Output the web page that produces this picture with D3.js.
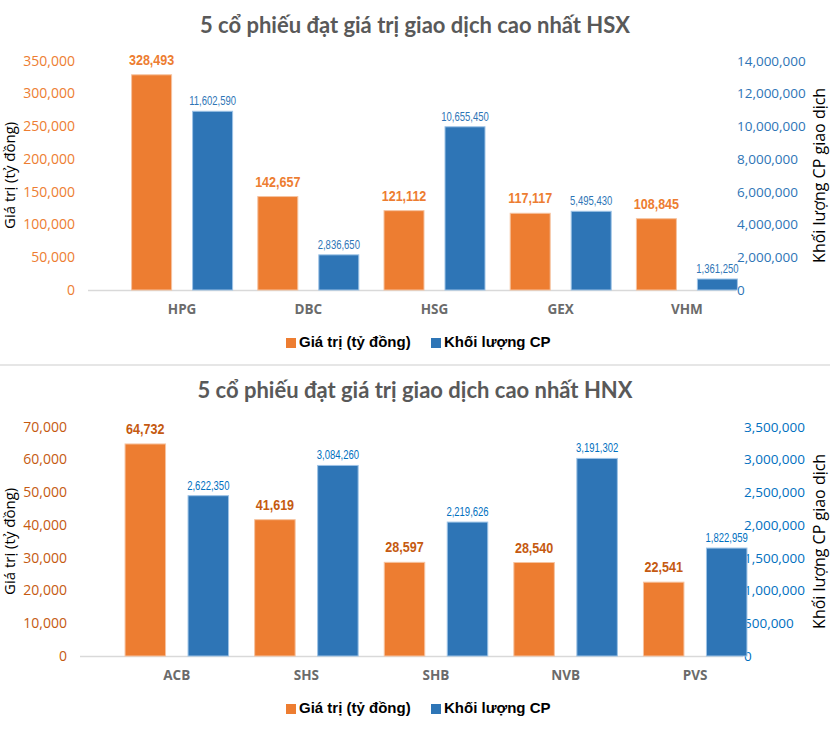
<!DOCTYPE html>
<html><head><meta charset="utf-8">
<script src="https://cdn.jsdelivr.net/npm/d3@7/dist/d3.min.js"></script>
<style>
html,body{margin:0;padding:0;background:#fff;}
svg{display:block;}
</style></head>
<body>
<svg id="chart" width="830" height="755"></svg>
<script>
// ---- Data ----
const hsxTitle = "5 cổ phiếu đạt giá trị giao dịch cao nhất HSX";
const hsxCategories = ["HPG", "DBC", "HSG", "GEX", "VHM"];
const hsxValue = [328493, 142657, 121112, 117117, 108845];
const hsxVolume = [11602590, 2836650, 10655450, 5495430, 1361250];
const hsxValueTicks = [0, 50000, 100000, 150000, 200000, 250000, 300000, 350000];
const hsxVolumeTicks = [0, 2000000, 4000000, 6000000, 8000000, 10000000, 12000000, 14000000];

const hnxTitle = "5 cổ phiếu đạt giá trị giao dịch cao nhất HNX";
const hnxCategories = ["ACB", "SHS", "SHB", "NVB", "PVS"];
const hnxValue = [64732, 41619, 28597, 28540, 22541];
const hnxVolume = [2622350, 3084260, 2219626, 3191302, 1822959];
const hnxValueTicks = [0, 10000, 20000, 30000, 40000, 50000, 60000, 70000];
const hnxVolumeTicks = [0, 500000, 1000000, 1500000, 2000000, 2500000, 3000000, 3500000];

const seriesNames = ["Giá trị (tỷ đồng)", "Khối lượng CP"];
const leftAxisTitle = "Giá trị (tỷ đồng)";
const rightAxisTitle = "Khối lượng CP giao dịch";

// ---- Drawing ----
const svg = d3.select("#chart");
const fmt = d3.format(",");
const ORANGE = "#ED7D31", BLUE = "#2E75B6";

function drawChart(o) {
  const g = svg.append("g");
  g.append("text").attr("x", 415).attr("y", o.titleY)
    .attr("text-anchor", "middle").attr("dominant-baseline", "middle")
    .style("font-family", "Lato, 'Open Sans', sans-serif").style("font-weight", "bold")
    .style("font-size", "22px").style("fill", "#595959").text(o.title);

  const y = d3.scaleLinear().domain([0, d3.max(o.valueTicks)]).range([o.base, o.top]);
  const y2 = d3.scaleLinear().domain([0, d3.max(o.volumeTicks)]).range([o.base, o.top]);
  // the secondary bars in the source sit slightly below their axis
  const y2bar = d3.scaleLinear().domain([0, d3.max(o.volumeTicks)]).range([o.base + o.shift, o.top + o.shift]);

  const x0 = d3.scaleBand().domain(o.categories).range(o.bandRange);
  const half = (o.barStep + o.barW) / 2;
  const x1 = d3.scaleBand().domain([0, 1])
    .range([x0.bandwidth() / 2 - half, x0.bandwidth() / 2 + half])
    .paddingInner(1 - o.barW / o.barStep).paddingOuter(0);

  g.append("line").attr("x1", o.axisX1).attr("x2", o.axisX2)
    .attr("y1", o.base + 0.5).attr("y2", o.base + 0.5)
    .attr("stroke", "#d9d9d9").attr("stroke-width", 1.5);

  const la = g.append("g").attr("transform", `translate(${o.leftTickX},0)`)
    .call(d3.axisLeft(y).tickValues(o.valueTicks).tickFormat(fmt).tickSize(0).tickPadding(0));
  la.select(".domain").remove();
  la.selectAll("text").style("font-family", "'Open Sans', sans-serif").style("font-size", "14px")
    .style("fill", o.leftColor);

  const ra = g.append("g").attr("transform", `translate(${o.rightTickX},0)`)
    .call(d3.axisRight(y2).tickValues(o.volumeTicks).tickFormat(fmt).tickSize(0).tickPadding(0));
  ra.select(".domain").remove();
  ra.selectAll("text").style("font-family", "'Open Sans', sans-serif").style("font-size", "13.5px")
    .style("fill", o.rightColor);

  g.append("text").attr("transform", `translate(${o.leftTitleX},${(o.base + o.top) / 2}) rotate(-90)`)
    .attr("text-anchor", "middle").attr("dominant-baseline", "middle")
    .style("font-family", "'Open Sans', sans-serif").style("font-size", "15px").style("fill", "#000")
    .text(leftAxisTitle);
  g.append("text").attr("transform", `translate(${o.rightTitleX},${(o.base + o.top) / 2}) rotate(-90)`)
    .attr("text-anchor", "middle").attr("dominant-baseline", "middle")
    .style("font-family", "'Open Sans', sans-serif").style("font-size", "16px").style("fill", "#000")
    .text(rightAxisTitle);

  const groups = g.selectAll(".grp").data(o.categories).enter().append("g")
    .attr("transform", d => `translate(${x0(d)},0)`);

  groups.append("rect")
    .attr("x", x1(0)).attr("width", x1.bandwidth())
    .attr("y", (d, i) => y(o.value[i])).attr("height", (d, i) => o.base - y(o.value[i]))
    .attr("fill", ORANGE).attr("stroke", "#f6c3a0").attr("stroke-width", 1);
  groups.append("rect")
    .attr("x", x1(1)).attr("width", x1.bandwidth())
    .attr("y", (d, i) => y2bar(o.volume[i])).attr("height", (d, i) => o.base - y2bar(o.volume[i]))
    .attr("fill", BLUE).attr("stroke", "#9dc3e6").attr("stroke-width", 1);

  groups.append("text")
    .attr("transform", (d, i) => `translate(${x1(0) + x1.bandwidth() / 2},${y(o.value[i]) - 10}) scale(0.81,1)`)
    .attr("text-anchor", "middle")
    .style("font-family", "'Liberation Sans', Arial, sans-serif")
    .style("font-weight", "bold").style("font-size", "15.5px").style("fill", o.valLabelColor)
    .text((d, i) => fmt(o.value[i]));
  groups.append("text")
    .attr("transform", (d, i) => `translate(${x1(1) + x1.bandwidth() / 2},${y2bar(o.volume[i]) - 6}) scale(0.76,1)`)
    .attr("text-anchor", "middle")
    .style("font-family", "'Liberation Sans', Arial, sans-serif")
    .style("font-size", "12.5px").style("fill", o.volLabelColor)
    .text((d, i) => fmt(o.volume[i]));

  groups.append("text")
    .attr("x", x0.bandwidth() / 2).attr("y", o.catY)
    .attr("text-anchor", "middle").attr("dominant-baseline", "middle")
    .style("font-family", "'Open Sans', sans-serif").style("font-weight", "bold")
    .style("font-size", "13.5px").style("fill", "#6b6b6b")
    .text(d => d);

  const lg = g.append("g").attr("transform", `translate(0,${o.legendY})`);
  const items = [
    {name: seriesNames[0], color: ORANGE, x: 286},
    {name: seriesNames[1], color: BLUE, x: 431}
  ];
  items.forEach(it => {
    lg.append("rect").attr("x", it.x).attr("y", -5).attr("width", 10).attr("height", 10).attr("fill", it.color);
    lg.append("text").attr("x", it.x + 13).attr("y", 0).attr("dominant-baseline", "middle")
      .style("font-family", "'Liberation Sans', Arial, sans-serif").style("font-weight", "bold")
      .style("font-size", "15px").style("fill", "#000").text(it.name);
  });
}

drawChart({
  title: hsxTitle, titleY: 27, categories: hsxCategories, value: hsxValue, volume: hsxVolume,
  valueTicks: hsxValueTicks, volumeTicks: hsxVolumeTicks,
  top: 60.7, base: 290, shift: 11.3,
  bandRange: [119, 750], barW: 40, barStep: 61,
  axisX1: 88, axisX2: 736,
  leftTickX: 75, rightTickX: 737, leftTitleX: 11, rightTitleX: 821,
  leftColor: "#ED7D31", rightColor: "#2E75B6", valLabelColor: "#ED7D31", volLabelColor: "#2E75B6",
  catY: 310, legendY: 343
});

svg.append("line").attr("x1", 0).attr("x2", 830).attr("y1", 365).attr("y2", 365)
  .attr("stroke", "#e6e6e6").attr("stroke-width", 2);

drawChart({
  title: hnxTitle, titleY: 392, categories: hnxCategories, value: hnxValue, volume: hnxVolume,
  valueTicks: hnxValueTicks, volumeTicks: hnxVolumeTicks,
  top: 426.7, base: 656, shift: 11.5,
  bandRange: [112, 760], barW: 40.5, barStep: 63,
  axisX1: 80, axisX2: 743,
  leftTickX: 67, rightTickX: 744, leftTitleX: 11, rightTitleX: 821,
  leftColor: "#C55A11", rightColor: "#0070C0", valLabelColor: "#C55A11", volLabelColor: "#0070C0",
  catY: 676, legendY: 709
});
</script>
</body></html>
